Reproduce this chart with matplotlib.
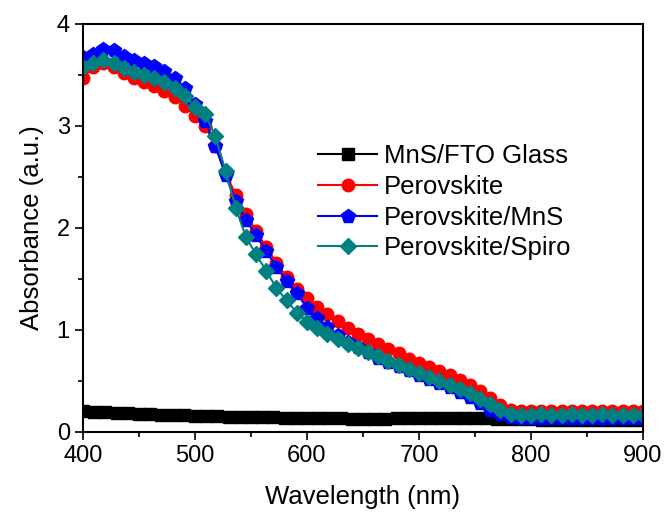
import numpy as np
import matplotlib
matplotlib.use("Agg")
import matplotlib.pyplot as plt
from matplotlib.ticker import MultipleLocator

plt.rcParams['font.family'] = ['Liberation Sans', 'DejaVu Sans']

# wavelength grids (nm)
wl_mns = np.arange(400, 901, 10)
wl_pvk = np.linspace(400, 900, 56)

# MnS/FTO Glass
abs_mns = [0.21, 0.20, 0.20, 0.19, 0.19, 0.18, 0.18, 0.17, 0.17, 0.165,
           0.16, 0.16, 0.155, 0.15, 0.15, 0.15, 0.145, 0.145, 0.14, 0.14,
           0.14, 0.135, 0.135, 0.135, 0.13, 0.13, 0.13, 0.13, 0.135, 0.135,
           0.14, 0.14, 0.14, 0.14, 0.14, 0.135, 0.135, 0.13, 0.13, 0.125,
           0.125, 0.12, 0.12, 0.12, 0.12, 0.12, 0.12, 0.12, 0.12, 0.12, 0.12]

# Perovskite
abs_pvk = [3.47, 3.58, 3.62, 3.58, 3.52, 3.47, 3.43, 3.39, 3.34, 3.28,
           3.20, 3.10, 3.00, 2.80, 2.55, 2.32, 2.14, 1.97, 1.81, 1.66,
           1.52, 1.40, 1.31, 1.23, 1.16, 1.09, 1.02, 0.96, 0.91, 0.86,
           0.81, 0.77, 0.72, 0.68, 0.64, 0.60, 0.56, 0.51, 0.46, 0.40,
           0.33, 0.26, 0.22, 0.21, 0.21, 0.21, 0.21, 0.21, 0.21, 0.21,
           0.21, 0.21, 0.21, 0.21, 0.21, 0.21]

# Perovskite/MnS
abs_pvk_mns = [3.68, 3.71, 3.75, 3.74, 3.69, 3.65, 3.62, 3.59, 3.54, 3.47,
               3.37, 3.22, 3.05, 2.80, 2.52, 2.26, 2.08, 1.93, 1.77, 1.62,
               1.48, 1.36, 1.22, 1.12, 1.03, 0.95, 0.88, 0.83, 0.78, 0.73,
               0.69, 0.65, 0.61, 0.56, 0.52, 0.48, 0.44, 0.39, 0.34, 0.28,
               0.22, 0.18, 0.15, 0.14, 0.14, 0.14, 0.14, 0.14, 0.14, 0.14,
               0.14, 0.14, 0.14, 0.14, 0.14, 0.14]

# Perovskite/Spiro
abs_pvk_spiro = [3.58, 3.62, 3.65, 3.62, 3.57, 3.53, 3.50, 3.47, 3.43, 3.37,
                 3.29, 3.19, 3.12, 2.90, 2.56, 2.20, 1.91, 1.74, 1.58, 1.41,
                 1.29, 1.17, 1.08, 1.02, 0.96, 0.91, 0.86, 0.82, 0.78, 0.74,
                 0.70, 0.66, 0.62, 0.58, 0.54, 0.50, 0.46, 0.42, 0.38, 0.32,
                 0.27, 0.22, 0.18, 0.17, 0.17, 0.18, 0.17, 0.17, 0.18, 0.17,
                 0.17, 0.18, 0.17, 0.17, 0.17, 0.17]

labels = ['MnS/FTO Glass', 'Perovskite', 'Perovskite/MnS', 'Perovskite/Spiro']
colors = ['black', '#ff0000', '#0000ff', '#008080']

fig = plt.figure(figsize=(6.66, 5.12), dpi=100)
ax = fig.add_axes([0.1246, 0.1563, 0.8409, 0.7969])

ax.plot(wl_mns, abs_mns, '-s', color=colors[0], mec=colors[0], ms=8, lw=1.5, label=labels[0])
ax.plot(wl_pvk, abs_pvk, '-o', color=colors[1], mec=colors[1], ms=9, lw=1.5, label=labels[1])
ax.plot(wl_pvk, abs_pvk_mns, '-p', color=colors[2], mec=colors[2], ms=10, lw=1.5, label=labels[2])
ax.plot(wl_pvk, abs_pvk_spiro, '-D', color=colors[3], mec=colors[3], ms=8.5, lw=1.5, label=labels[3])

ax.set_xlim(400, 900)
ax.set_ylim(0, 4)
ax.xaxis.set_major_locator(MultipleLocator(100))
ax.xaxis.set_minor_locator(MultipleLocator(50))
ax.yaxis.set_major_locator(MultipleLocator(1))
ax.yaxis.set_minor_locator(MultipleLocator(0.5))
ax.tick_params(which='both', direction='out', top=False, right=False, width=1.2, labelsize=17)
ax.tick_params(which='major', length=6)
ax.tick_params(which='minor', length=3.5)
for sp in ax.spines.values():
    sp.set_linewidth(1.5)

ax.set_xlabel('Wavelength (nm)', fontsize=18.5, labelpad=13)
ax.set_ylabel('Absorbance (a.u.)', fontsize=18.5, labelpad=9)

ax.legend(loc='upper left', bbox_to_anchor=(0.42, 0.705), frameon=False,
          fontsize=18.5, handlelength=2.3, handletextpad=0.25, labelspacing=0.26,
          borderpad=0, borderaxespad=0, numpoints=1)

fig.savefig('out.png', dpi=100)
